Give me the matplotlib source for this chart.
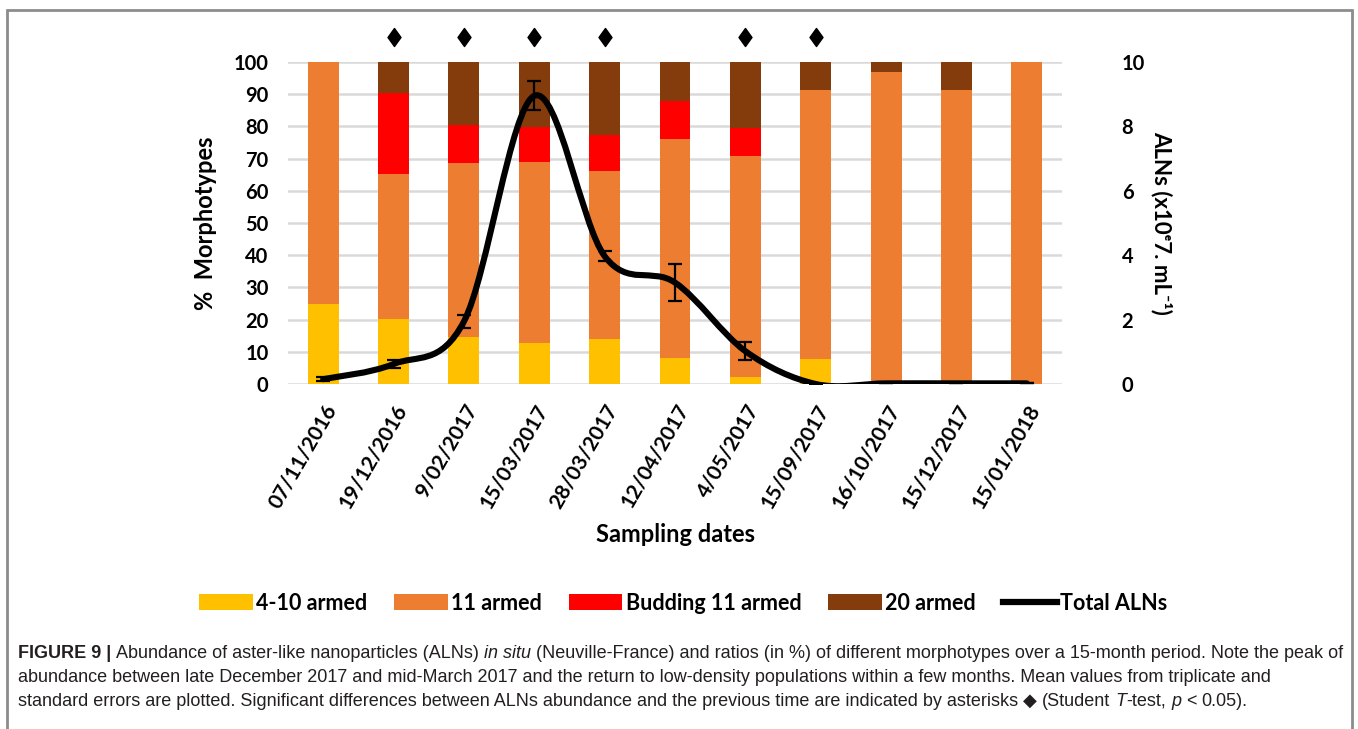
import numpy as np
import matplotlib
matplotlib.use("Agg")
import matplotlib.pyplot as plt
from matplotlib.path import Path
from matplotlib.patches import PathPatch, Rectangle, Patch
from matplotlib.lines import Line2D

plt.rcParams['font.family'] = ['Lato', 'DejaVu Sans']

# ---------------------------------------------------------------- data
dates = ["07/11/2016", "19/12/2016", "9/02/2017", "15/03/2017", "28/03/2017",
         "12/04/2017", "4/05/2017", "15/09/2017", "16/10/2017", "15/12/2017",
         "15/01/2018"]
armed_4_10 = [25.0, 20.2, 14.7, 12.6, 13.9, 8.2, 2.3, 7.8, 0.0, 0.0, 0.0]
armed_11 = [75.0, 45.0, 53.8, 56.2, 52.2, 67.9, 68.6, 83.5, 97.0, 91.3, 100.0]
budding_11 = [0.0, 25.3, 11.9, 10.9, 11.1, 11.8, 8.5, 0.0, 0.0, 0.0, 0.0]
armed_20 = [0.0, 9.5, 19.6, 20.3, 22.8, 12.1, 20.6, 8.7, 3.0, 8.7, 0.0]

total_alns = [0.15, 0.62, 1.94, 8.95, 3.97, 3.15, 1.02, 0.0, 0.02, 0.02, 0.02]
total_err = [0.06, 0.12, 0.20, 0.45, 0.15, 0.57, 0.28, 0.0, 0.0, 0.0, 0.0]

signif = [False, True, True, True, True, False, True, True, False, False, False]

legend_labels = ["4-10 armed", "11 armed", "Budding 11 armed", "20 armed", "Total ALNs"]
colors = ["#FFC000", "#ED7D31", "#FF0000", "#843C0C"]

# ---------------------------------------------------------------- figure
W, H = 1358, 729
fig = plt.figure(figsize=(W / 100, H / 100), dpi=100)
ax = fig.add_axes([288 / W, 1 - 384 / H, (1062 - 288) / W, (384 - 62) / H])
x = np.arange(len(dates))

bottom = np.zeros(len(dates))
for vals, c in zip([armed_4_10, armed_11, budding_11, armed_20], colors):
    ax.bar(x, vals, width=0.44, bottom=bottom, color=c, zorder=2)
    bottom += np.array(vals)

ax.set_xlim(-0.5, len(dates) - 0.5)
ax.set_ylim(0, 100)
ax.set_yticks(np.arange(0, 101, 10))
ax.yaxis.grid(True, color="#d9d9d9", lw=1.8, zorder=0)
ax.set_axisbelow(True)
for s in ax.spines.values():
    s.set_visible(False)
ax.tick_params(length=0, labelsize=14.5, pad=14)
for t in ax.get_yticklabels():
    t.set_fontweight("bold")
ax.set_xticks(x)
ax.set_xticklabels(dates, rotation=60, ha="right", va="top", rotation_mode="anchor",
                   fontsize=15, fontweight="bold")
ax.tick_params(axis="x", pad=12)
ax.set_ylabel("%  Morphotypes", fontsize=17, fontweight="bold", labelpad=12)
ax.set_xlabel("Sampling dates", fontsize=17, fontweight="bold", labelpad=8)

# significance diamonds
diamond = Path([(0, 1), (0.72, 0), (0, -1), (-0.72, 0), (0, 1)],
               [Path.MOVETO, Path.LINETO, Path.LINETO, Path.LINETO, Path.CLOSEPOLY])
xs = [i for i, s in enumerate(signif) if s]
ax.plot(xs, [107.8] * len(xs), linestyle="none", marker=diamond, markersize=13,
        color="black", clip_on=False)

# ---------------------------------------------------------------- right axis
ax2 = ax.twinx()
ax2.set_ylim(0, 10)
ax2.set_yticks(np.arange(0, 11, 2))
for s in ax2.spines.values():
    s.set_visible(False)
ax2.tick_params(length=0, labelsize=14.5, pad=43)
for t in ax2.get_yticklabels():
    t.set_fontweight("bold")
ax2.set_ylabel("ALNs (x10\u1d497. mL\u207b\u00b9)", fontsize=16, fontweight="bold",
               rotation=270, labelpad=20)

# smoothed line (bezier segments through the points)
pts = np.column_stack([x, total_alns]).astype(float)
n = len(pts)
verts = [tuple(pts[0])]
codes = [Path.MOVETO]
for i in range(n - 1):
    p0 = pts[max(i - 1, 0)]
    p1 = pts[i]
    p2 = pts[i + 1]
    p3 = pts[min(i + 2, n - 1)]
    c1 = p1 + (p2 - p0) / 6.0
    c2 = p2 - (p3 - p1) / 6.0
    verts += [tuple(c1), tuple(c2), tuple(p2)]
    codes += [Path.CURVE4] * 3
ax2.add_patch(PathPatch(Path(verts, codes), facecolor="none", edgecolor="black",
                        lw=4.4, capstyle="round", joinstyle="round", zorder=3))
ax2.errorbar(x, total_alns, yerr=total_err, fmt="none", ecolor="black",
             elinewidth=1.6, capsize=5, capthick=1.6, zorder=4)

# ---------------------------------------------------------------- legend
handles = [Patch(facecolor=c, edgecolor="none") for c in colors]
handles.append(Line2D([0], [0], color="black", lw=4.5))
fig.legend(handles, legend_labels, loc="center", bbox_to_anchor=(683 / W, 1 - 603 / H),
           ncol=5, frameon=False, prop={"size": 15.5, "weight": "bold"},
           handlelength=2.5, handleheight=0.8, handletextpad=0.15, columnspacing=1.25)

# ---------------------------------------------------------------- caption
cap_font = ["Liberation Sans", "DejaVu Sans"]
cap_col = "#231f20"
cap_size = 13.0
renderer = fig.canvas.get_renderer()


def text_w(s, **kw):
    t = fig.text(0, 0, s, fontsize=cap_size, family=cap_font, **kw)
    w = t.get_window_extent(renderer).width
    t.remove()
    return w


space_w = text_w("x x") - text_w("xx")


def draw_runs(y_px, runs):
    xp = 18
    for s, kw in runs:
        if s == " ":
            xp += space_w
            continue
        t = fig.text(xp / W, 1 - y_px / H, s, fontsize=cap_size, family=cap_font,
                     color=cap_col, va="baseline", ha="left", **kw)
        xp += t.get_window_extent(renderer).width


N = {}
B = {"fontweight": "bold"}
I = {"fontstyle": "italic"}
draw_runs(658, [("FIGURE 9 |", B), (" ", N), ("Abundance of aster-like nanoparticles (ALNs)", N),
                (" ", N), ("in situ", I), (" ", N),
                ("(Neuville-France) and ratios (in %) of different morphotypes over a 15-month period. Note the peak of", N)])
draw_runs(682, [("abundance between late December 2017 and mid-March 2017 and the return to low-density populations within a few months. Mean values from triplicate and", N)])
draw_runs(706, [("standard errors are plotted. Significant differences between ALNs abundance and the previous time are indicated by asterisks", N),
                (" ", N), ("\u25c6", N), (" ", N), ("(Student", N), (" ", N), ("T", I), ("-test,", N), (" ", N),
                ("p", I), (" ", N), ("<", N), (" ", N), ("0.05).", N)])

# border
fig.patches.append(Rectangle((7 / W, -0.02), (1352 - 7) / W, 1.02 - 10 / H, fill=False,
                             edgecolor="#8c8c8c", lw=2, transform=fig.transFigure))

fig.savefig("out.png", dpi=100)
